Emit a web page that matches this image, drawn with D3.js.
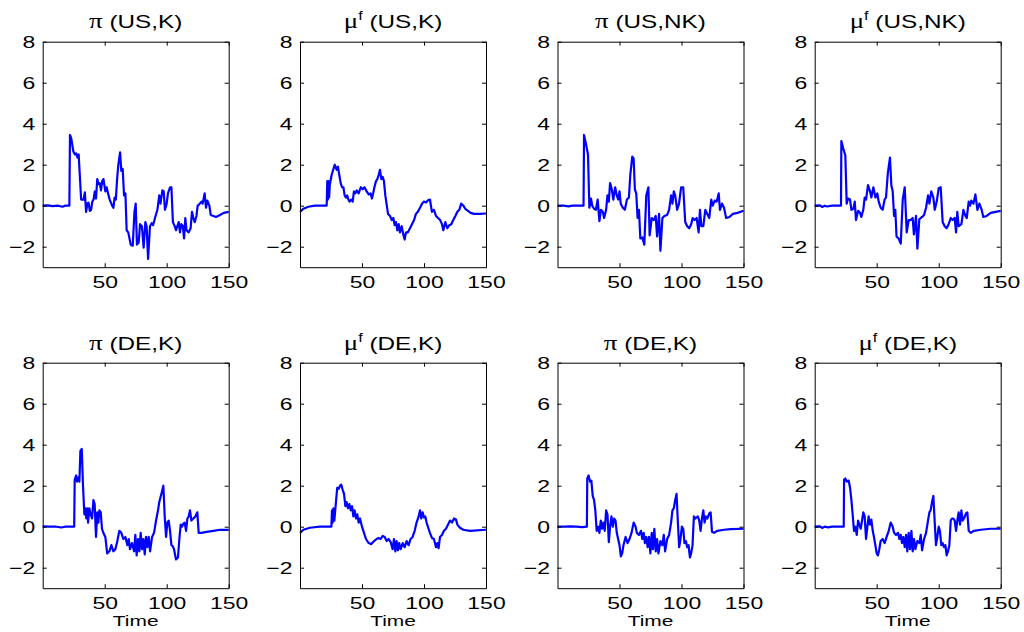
<!DOCTYPE html>
<html>
<head>
<meta charset="utf-8">
<script src="https://cdn.jsdelivr.net/npm/d3@7"></script>
<style>
  body { margin: 0; background: #fff; }
  svg { display: block; }
  .tick text { font-family: "Liberation Sans", Arial, sans-serif; }
</style>
</head>
<body>
<svg id="chart" width="1024" height="632"></svg>
<script>
// titles: greek symbol, superscript and suffix
const symbols = ["π", "μ", "π", "μ", "π", "μ", "π", "μ"];
const supers = ["", "f", "", "f", "", "f", "", "f"];
const suffixes = ["(US,K)", "(US,K)", "(US,NK)", "(US,NK)", "(DE,K)", "(DE,K)", "(DE,K)", "(DE,K)"];
const xTicks = [50, 100, 150];
const yTicks = [-2, 0, 2, 4, 6, 8];

// series as [time, value]
const piUSK = [[0,0],[4,0.02],[8,-0.02],[12,0],[16,-0.05],[18,0],[21.5,0],[22,3.45],[23,3.3],[24.7,2.65],[26,2.5],[27,2.55],[28,2.35],[29,2.5],[30,1.4],[31,0.3],[33,0.3],[34,0.65],[35,-0.3],[36,0.1],[37,0.15],[38,-0.25],[39,-0.2],[40,0.2],[41,0.3],[42,0.7],[43,0.35],[44,1.3],[45,1.05],[46,1.1],[47,0.75],[48,1.2],[49,1.3],[50.5,0.7],[51.6,0.9],[52.7,0.6],[54,0.3],[56,0.0],[57,-0.1],[58,0.4],[59,0.3],[60,1.3],[61,2.0],[62.4,2.6],[63.4,1.7],[64.5,1.8],[65.6,0.5],[66.7,0.6],[67.7,-1.2],[69,-1.3],[71,-1.9],[72.6,-1.95],[74,-0.3],[75,0.1],[76,-1.9],[77.4,-1.8],[78.5,-0.9],[80,-1.0],[81.4,-2.05],[82.8,-0.8],[83.8,-1.0],[85,-2.6],[86.5,-1.0],[88,-0.85],[89,-0.95],[91,-0.5],[92.5,-0.2],[94,0.5],[95,0.1],[96.5,0.75],[97.6,0.7],[98.6,-0.2],[100,0.1],[101,0.6],[102.7,0.9],[103.8,0.9],[105,-0.8],[106.5,-1.0],[107.5,-1.2],[108.6,-1.0],[109.7,-0.8],[110.7,-1.3],[111.8,-0.9],[113,-1.0],[114,-1.6],[115,-0.6],[116,-1.2],[117.7,-1.3],[119.3,-1.1],[120.4,-0.3],[121.5,-0.6],[122.6,-0.8],[124,-0.5],[125,0.0],[126,0.05],[128,0.2],[129,0.1],[130.6,0.6],[131.7,-0.1],[132.8,0.25],[134.4,0.0],[135.5,-0.45],[137.6,-0.5],[139.8,-0.55],[143,-0.45],[146,-0.35],[150,-0.3]];

const muUSK = [[0,-0.3],[1,-0.25],[2.7,-0.15],[6.7,-0.05],[12,0],[21.5,0],[22,1.2],[22.5,0.3],[23,1.2],[23.5,0.4],[24,1.0],[25.5,1.5],[27,1.8],[28,2.0],[29.6,1.75],[30.6,1.9],[31.7,1.5],[32.8,1.1],[33.9,0.9],[35,0.9],[36,0.5],[37,0.4],[38,0.5],[39,0.3],[40,0.2],[41.4,0.3],[42.5,0.2],[43.5,0.7],[44.6,0.6],[45.7,0.75],[47.3,0.6],[49,0.9],[50.5,0.8],[52,0.9],[53.8,0.7],[55.4,0.55],[57,0.6],[58,0.35],[59,0.6],[60,0.9],[61.3,1.2],[62.4,1.3],[63.4,1.5],[64.5,1.75],[65.6,1.3],[66.7,1.4],[67.7,1.2],[68.8,0.5],[70,0.0],[71,-0.4],[72.6,-0.5],[74,-0.7],[75.3,-0.6],[76.3,-0.95],[77.4,-0.8],[78.5,-1.2],[79.6,-0.9],[80.6,-1.3],[82,-1.0],[83.3,-1.4],[84.4,-1.65],[85.5,-1.3],[87,-1.3],[88.7,-1.1],[90.3,-0.9],[92,-0.7],[93.5,-0.4],[95,-0.3],[96.8,-0.1],[98.4,0.1],[100,0.2],[101.6,0.15],[103,0.25],[104.8,0.3],[106.4,-0.3],[108,-0.2],[109.7,-0.5],[111.3,-0.6],[113,-0.7],[114.5,-0.9],[115.6,-1.2],[117.2,-0.8],[118.8,-1.1],[120.4,-0.95],[122,-0.9],[123.6,-0.7],[125.3,-0.5],[126.9,-0.3],[128.5,-0.2],[130,0.1],[131.7,0.0],[133.3,-0.15],[135.5,-0.25],[137.6,-0.35],[140.3,-0.4],[145,-0.4],[150,-0.38]];

const piUSNK = [[0,0],[5,0],[9,-0.03],[12,0],[21,0],[21.4,3.45],[23,3.0],[24.6,2.5],[25.7,-0.1],[27,0.35],[28,0.0],[29.5,-0.15],[31,-0.2],[32.4,0.3],[33.8,-0.75],[35,-0.2],[36.5,-0.3],[37.6,-0.6],[39.2,-0.2],[40.3,0.5],[41.4,0.2],[42.4,1.1],[43.8,0.8],[45,0.3],[46.5,0.9],[47.8,0.5],[49,0.3],[50,0.7],[51,0.1],[52.7,-0.1],[54.3,-0.2],[56,0.3],[57.6,0.4],[58.7,1.5],[60.3,2.4],[61.4,2.3],[62.4,0.8],[63.5,0.6],[64.6,-0.6],[65.7,-0.2],[66.8,-1.6],[68.4,-1.55],[70,-1.9],[71.6,0.5],[73.3,0.9],[74.3,-1.45],[76,-0.6],[77.6,-0.7],[79.2,-0.5],[80.3,-1.5],[81.9,-0.4],[83,-2.2],[84.6,-0.6],[86.2,-0.5],[88.4,-0.45],[90,-0.2],[91.6,0.5],[92.7,0.1],[93.8,0.7],[94.9,0.5],[96.5,-0.2],[98,0.1],[99.7,0.9],[101.4,0.9],[103,-0.8],[104.6,-1.0],[106.2,-1.1],[107.8,-0.9],[109,-0.6],[110.5,-0.7],[112.2,-0.6],[113.8,-1.3],[114.9,-0.2],[116,-1.0],[117.6,-1.0],[119.2,-0.2],[120.8,-0.4],[122.4,-0.6],[124,0.3],[125.2,0.0],[126.8,0.25],[128.4,0.2],[130,0.6],[131,-0.2],[132.7,0.1],[134.3,-0.1],[136,-0.6],[138.7,-0.55],[141.4,-0.4],[145.2,-0.35],[150,-0.25]];

const muUSNK = [[0,0],[4,0.02],[6,-0.06],[8,0],[10,-0.04],[14,0],[21.2,0],[21.5,3.15],[23,2.8],[24.7,2.45],[25.8,0.1],[26.9,0.35],[28.5,0.3],[29.6,-0.2],[31.2,-0.15],[32.3,0.2],[33.3,-0.7],[35,-0.25],[36.6,-0.35],[37.6,-0.55],[39.2,-0.2],[40.3,0.4],[41.4,0.3],[43,1.0],[44.6,0.7],[45.7,0.4],[47.3,0.9],[49,0.4],[50.5,0.6],[51.6,0.2],[53.2,-0.1],[54.8,-0.2],[56.4,0.3],[57.5,0.4],[59,1.6],[60.7,2.35],[61.8,1.0],[62.9,0.7],[64,-0.5],[65,-0.2],[66,-1.5],[67.7,-1.6],[69.4,-1.85],[71,0.3],[72.6,0.9],[74.2,-1.3],[75.8,-0.7],[77.4,-0.7],[79,-0.6],[80,-1.4],[81.7,-0.5],[82.8,-2.1],[84.4,-0.65],[86.6,-0.55],[88.2,-0.45],[89.8,-0.1],[91.4,0.5],[92.5,0.1],[94,0.7],[95.7,0.4],[96.8,-0.2],[98.4,0.2],[100,0.85],[101.6,0.9],[103.2,-0.8],[104.8,-1.0],[106.4,-1.1],[108,-0.9],[109.7,-0.6],[111.3,-0.7],[112.9,-0.6],[114,-1.3],[115,-0.3],[116.1,-1.0],[118.3,-0.9],[119.9,-0.2],[121.5,-0.5],[122.6,-0.6],[124.2,0.2],[125.3,0.0],[126.3,0.25],[128,0.1],[129.6,0.55],[131.2,-0.2],[132.8,0.1],[134.4,-0.15],[136,-0.55],[138.7,-0.5],[141.9,-0.35],[146,-0.3],[150,-0.25]];

const piDEK = [[0,0.02],[5,0],[10,0.01],[15,-0.04],[18,0],[25.4,0],[25.8,2.3],[27,2.5],[27.7,2.2],[28.8,2.4],[29.6,2.2],[30.4,3.7],[31.5,3.8],[32.5,2.0],[33.6,0.6],[34.4,0.9],[35.2,0.4],[36,0.9],[36.6,0.2],[37.6,0.9],[38.7,0.6],[39.8,0.4],[40.9,1.3],[41.9,1.1],[43,-0.5],[44,0.7],[44.9,0.2],[45.7,0.8],[46.8,0.7],[47.8,-0.1],[48.9,-0.3],[50.5,-0.5],[52,-1.3],[53.8,-1.2],[55.4,-0.9],[57,-1.2],[58.6,-1.1],[60.2,-0.7],[61.8,-0.2],[63.4,-0.3],[65,-0.6],[66.7,-0.5],[68.3,-0.9],[69.4,-0.6],[70.4,-1.1],[72,-0.8],[73.7,-1.2],[74.7,-0.4],[75.8,-1.4],[76.9,-0.6],[78,-1.2],[79,-0.3],[80.1,-1.1],[81.2,-0.6],[82.3,-1.35],[83.3,-0.5],[84.4,-1.0],[85.5,-0.5],[86.6,-1.2],[88.2,-0.5],[89.8,-0.3],[91.4,0.3],[93,0.8],[94,1.2],[95.7,1.6],[97.3,2.0],[98.4,0.5],[99.5,-0.5],[100.5,0.2],[101.6,0.3],[102.7,-0.2],[103.8,-0.9],[104.8,-0.95],[105.9,-1.1],[107.5,-1.6],[109.1,-1.5],[110.2,-0.6],[111.3,0.1],[112.4,0.0],[113.4,0.15],[114.5,0.2],[115.6,-0.2],[116.7,0.4],[117.7,0.5],[118.8,0.8],[119.9,0.3],[121.5,0.4],[123.1,0.5],[124.7,0.7],[125.8,-0.3],[128,-0.3],[132.2,-0.25],[137.6,-0.2],[143,-0.15],[150,-0.15]];

const muDEK = [[0,-0.3],[1,-0.25],[2.7,-0.15],[8,-0.05],[16,0],[25.3,0],[25.8,0.8],[26.3,0.2],[26.9,0.9],[27.7,0.3],[29,1.2],[30,1.9],[31.2,1.85],[32.3,2.0],[33.3,2.05],[34.4,1.8],[35.5,1.6],[36.6,1.0],[37.6,1.2],[38.7,0.9],[39.8,1.1],[40.9,0.8],[42,1.0],[43,0.5],[44,0.8],[45.2,0.4],[46.2,0.6],[47.3,0.2],[48.4,0.4],[50,0.0],[51.6,-0.3],[53.2,-0.6],[55.4,-0.8],[57.5,-0.85],[59.7,-0.7],[61.8,-0.6],[63.4,-0.55],[65,-0.6],[66.7,-0.45],[68.3,-0.5],[69.9,-0.7],[71.5,-0.6],[73.1,-0.75],[74.7,-1.1],[75.8,-0.6],[76.9,-1.2],[77.9,-0.7],[79,-1.15],[80,-0.8],[81.2,-1.1],[82.8,-0.8],[84.4,-1.0],[86,-0.7],[87.6,-0.9],[89.2,-0.6],[90.8,-0.5],[92.5,-0.2],[94,0.2],[95.7,0.5],[96.8,0.8],[97.8,0.4],[98.9,0.7],[100,0.45],[101,0.5],[102.1,0.2],[103.7,-0.1],[104.8,-0.3],[106.4,-0.55],[108,-0.6],[109.7,-1.0],[110.7,-0.8],[111.8,-1.05],[112.9,-0.5],[114.5,-0.4],[116.1,-0.2],[117.7,-0.1],[119.3,0.1],[121,0.3],[122.6,0.2],[124.2,0.4],[125.8,0.35],[126.9,0.1],[129,-0.05],[131.7,-0.15],[137,-0.2],[150,-0.15]];

const piDEK2 = [[0,0],[6,0],[10,0.02],[15,0],[20,-0.02],[23.7,0],[24,2.35],[25.1,2.5],[26.2,2.2],[27.3,2.25],[28.4,1.5],[29.5,1.3],[30.5,0.8],[31.6,-0.2],[32.7,0.0],[33.8,-0.3],[34.9,0.3],[36,-0.1],[37,0.2],[38.1,-0.2],[39.2,0.8],[40.3,0.6],[41.4,-0.75],[42.4,0.0],[43.5,0.5],[44.6,0.0],[45.7,0.4],[46.8,0.3],[47.8,-0.3],[48.9,-0.6],[50,-0.9],[51.1,-1.45],[52.2,-1.3],[53.2,-0.9],[54.9,-0.5],[56.5,-0.8],[58.1,-0.6],[59.7,-0.3],[61.4,0.2],[63,0.0],[64,-0.3],[65.7,-0.4],[67.3,-0.2],[68.4,-0.6],[69.5,-0.3],[70.5,-0.8],[71.6,-0.5],[72.7,-1.0],[73.8,-0.5],[74.9,-1.3],[76,-0.3],[77,-1.1],[78.1,-0.1],[79.2,-1.2],[80.3,-0.6],[81.4,-1.3],[83,-0.7],[84.6,-0.9],[85.7,-0.4],[86.8,-1.2],[88.4,-0.6],[90,-0.4],[91.6,0.2],[92.7,0.8],[93.8,0.9],[94.9,1.3],[96,1.6],[97,0.3],[98.1,-1.0],[99.2,-0.6],[100.3,0.0],[101.4,-0.1],[102.4,-0.8],[103.5,-0.7],[104.6,-1.0],[105.7,-0.9],[106.8,-1.5],[107.8,-1.3],[108.9,-0.9],[110,0.5],[111.1,0.4],[112.2,0.45],[113.2,0.5],[114.3,0.3],[115.4,-0.2],[116.5,0.4],[117.6,0.8],[118.6,0.2],[119.7,0.5],[120.8,0.4],[122.4,0.65],[123.5,0.7],[124.6,-0.25],[126.2,-0.3],[128.9,-0.2],[134.3,-0.15],[139.7,-0.12],[150,-0.1]];

const muDEK2 = [[0,0],[4,0.02],[6,-0.06],[8,0],[11,-0.03],[14,0],[23.4,0],[23.7,2.3],[24.7,2.35],[25.8,2.2],[27.4,2.25],[28.5,1.9],[29.6,1.3],[30.6,0.6],[31.7,-0.2],[32.8,0.0],[33.9,-0.4],[35,0.3],[36,0.1],[37.1,-0.1],[38.2,0.3],[39.2,0.7],[40.3,0.5],[41.4,-0.6],[42.5,0.0],[43.5,0.5],[44.6,0.1],[45.7,0.35],[46.8,-0.2],[47.8,-0.5],[48.9,-0.9],[50,-1.3],[51,-1.4],[52.1,-1.1],[53.2,-0.7],[54.8,-0.6],[56.4,-0.8],[58,-0.5],[59.7,-0.2],[61.3,0.2],[62.9,0.0],[64,-0.3],[65.6,-0.4],[67.2,-0.3],[68.3,-0.6],[69.4,-0.4],[70.4,-0.8],[71.5,-0.5],[72.6,-1.0],[73.7,-0.4],[74.7,-1.2],[75.8,-0.3],[76.9,-1.1],[78,-0.2],[79,-1.2],[80.1,-0.6],[81.2,-1.1],[82.8,-0.7],[84.4,-0.8],[85.5,-0.4],[86.6,-1.15],[88.2,-0.6],[89.8,-0.3],[91.4,0.3],[92.5,0.7],[93.5,0.8],[94.6,1.2],[95.7,1.5],[96.8,0.2],[97.8,-0.9],[98.9,-0.5],[100,0.0],[101,-0.2],[102.1,-0.9],[103.2,-0.8],[104.3,-1.0],[105.4,-0.9],[106.4,-1.4],[107.5,-1.2],[108.6,-0.9],[109.7,0.3],[110.7,0.4],[111.8,0.4],[112.9,0.3],[114,-0.2],[115,0.3],[116.1,0.7],[117.2,0.1],[118.3,0.8],[119.3,0.3],[120.4,0.4],[122,0.65],[123.1,0.7],[124.2,-0.2],[125.8,-0.3],[128.5,-0.2],[133.9,-0.15],[141.9,-0.1],[150,-0.1]];

const seriesList = [piUSK, muUSK, piUSNK, muUSNK, piDEK, muDEK, piDEK2, muDEK2];

const svg = d3.select("#chart");
const colLeft = [42.7, 300, 557.5, 814.7],
      rowTop = [41.7, 362.7],
      pw = 186, ph = 225.5,
      sx = 1.35,               // text in the picture is stretched sideways
      font = "'Liberation Sans', Arial, sans-serif",
      greek = "'Liberation Serif', 'DejaVu Serif', serif";

seriesList.forEach(function(data, i) {
    let col = i % 4, row = Math.floor(i / 4);
    let left = colLeft[col], top = rowTop[row];

    let x = d3.scaleLinear().domain([0, 150]).range([0, pw]);
    let y = d3.scaleLinear().domain([-3, 8]).range([ph, 0]);

    let g = svg.append("g").attr("transform", "translate(" + left + "," + top + ")");

    // data line
    g.append("path")
        .datum(data)
        .attr("fill", "none")
        .attr("stroke", "#0000ff")
        .attr("stroke-width", 2.2)
        .attr("stroke-linejoin", "round")
        .attr("d", d3.line().x(d => x(d[0])).y(d => y(d[1])));

    // axes, ticks pointing inward (matlab style)
    let bottom = g.append("g").attr("transform", "translate(0," + ph + ")")
        .call(d3.axisBottom(x).tickValues(xTicks).tickSize(-4).tickSizeOuter(0));
    let leftAx = g.append("g")
        .call(d3.axisLeft(y).tickValues(yTicks).tickSize(-4).tickSizeOuter(0));
    g.append("g").attr("transform", "translate(" + pw + ",0)")
        .call(d3.axisRight(y).tickValues(yTicks).tickSize(-4).tickSizeOuter(0).tickFormat(""));
    g.append("g")
        .call(d3.axisTop(x).tickValues(xTicks).tickSize(-4).tickSizeOuter(0).tickFormat(""));

    g.selectAll(".domain").attr("stroke", "#000").attr("stroke-width", 1);
    g.selectAll(".tick line").attr("stroke", "#000");

    bottom.selectAll(".tick text")
        .attr("y", null).attr("dy", null)
        .attr("font-size", 17).attr("fill", "#000").attr("font-family", font)
        .attr("text-anchor", "middle")
        .attr("transform", "translate(0,21) scale(" + sx + ",1)");

    leftAx.selectAll(".tick text")
        .attr("x", null).attr("dy", null)
        .text(d => d < 0 ? "\u2212" + Math.abs(d) : d)
        .attr("font-size", 17).attr("fill", "#000").attr("font-family", font)
        .attr("text-anchor", "end")
        .attr("transform", "translate(-7.5,6) scale(" + sx + ",1)");

    // title
    let title = g.append("text")
        .attr("text-anchor", "middle")
        .attr("font-family", font)
        .attr("font-size", 18)
        .attr("transform", "translate(" + (pw / 2) + "," + (row == 0 ? -14 : -12.5) + ") scale(" + sx + ",1)");
    title.append("tspan").attr("font-family", greek).attr("font-size", 20).text(symbols[i]);
    if (supers[i]) {
        title.append("tspan").attr("font-size", 12).attr("dy", -8).text(supers[i]);
        title.append("tspan").attr("dy", 8).text(" " + suffixes[i]);
    } else {
        title.append("tspan").text(" " + suffixes[i]);
    }

    if (row == 1) {
        g.append("text")
            .attr("text-anchor", "middle")
            .attr("font-family", font)
            .attr("font-size", 15.5)
            .attr("transform", "translate(" + (pw / 2) + "," + (ph + 38) + ") scale(" + sx + ",1)")
            .text("Time");
    }
});
</script>
</body>
</html>
